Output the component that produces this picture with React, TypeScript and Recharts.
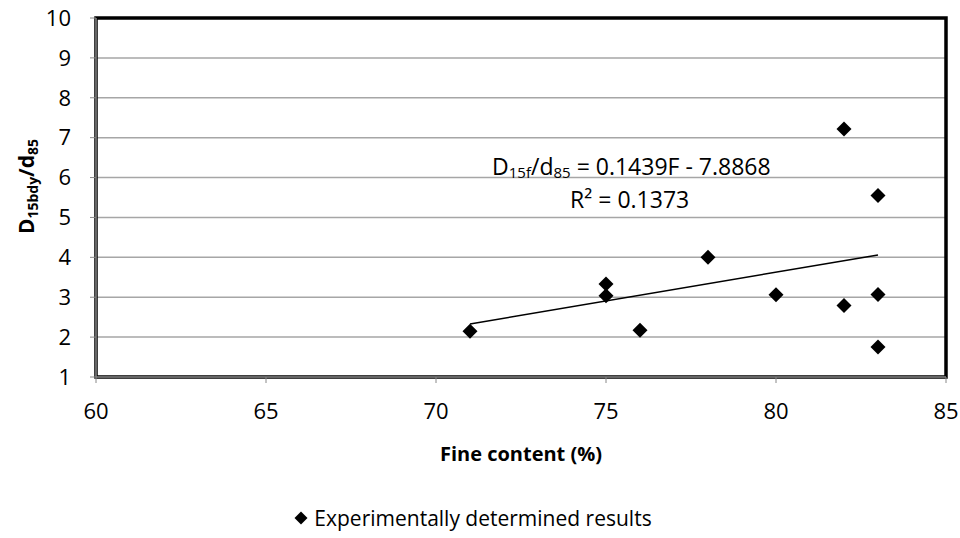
import React from 'react';
import {
  ScatterChart,
  Scatter,
  XAxis,
  YAxis,
  CartesianGrid,
  Legend,
  ReferenceArea,
  ReferenceDot,
} from 'recharts';

// valeurs
const fineContent = [71, 75, 75, 76, 78, 80, 82, 82, 83, 83, 83];
const ratio = [2.15, 3.33, 3.04, 2.17, 4.0, 3.06, 7.22, 2.79, 5.55, 3.07, 1.75];

// droite de tendance (extrémités)
const trendX = [71, 83];
const trendY = [2.33, 4.06];

const xTicks = [60, 65, 70, 75, 80, 85];
const yTicks = [1, 2, 3, 4, 5, 6, 7, 8, 9, 10];

const FONT = '"Open Sans", "Noto Sans", sans-serif';

const points = fineContent.map((x, i) => ({ x, y: ratio[i] }));
const trend = trendX.map((x, i) => ({ x, y: trendY[i] }));

const Diamond = (props: any) => {
  const { cx, cy } = props;
  const s = 7.5;
  return (
    <polygon
      points={`${cx},${cy - s} ${cx + s},${cy} ${cx},${cy + s} ${cx - s},${cy}`}
      fill="#000"
    />
  );
};

const YLabel = (props: any) => {
  const vb = props.viewBox;
  const cx = 26;
  const cy = vb.y + vb.height / 2 - 11;
  return (
    <text
      x={cx}
      y={cy}
      transform={`rotate(-90, ${cx}, ${cy})`}
      textAnchor="middle"
      dominantBaseline="central"
      fontFamily={FONT}
      fontWeight="bold"
      fontSize={21}
      fill="#000"
    >
      <tspan>D</tspan>
      <tspan fontSize={14} dy={6}>15bdy</tspan>
      <tspan dy={-6}>/d</tspan>
      <tspan fontSize={14} dy={6}>85</tspan>
    </text>
  );
};

const XLabel = (props: any) => {
  const vb = props.viewBox;
  return (
    <text
      x={vb.x + vb.width / 2}
      y={vb.y + 76}
      textAnchor="middle"
      dominantBaseline="central"
      fontFamily={FONT}
      fontWeight="bold"
      fontSize={20}
      fill="#000"
    >
      Fine content (%)
    </text>
  );
};

const Equation = (props: any) => {
  const vb = props.viewBox;
  const x = vb.x;
  const y = vb.y;
  return (
    <g fontFamily={FONT} fontSize={23} fill="#000">
      <text x={x} y={y} dominantBaseline="central">
        <tspan>D</tspan>
        <tspan fontSize={15} dy={6}>15f</tspan>
        <tspan dy={-6}>/d</tspan>
        <tspan fontSize={15} dy={6}>85</tspan>
        <tspan dy={-6}> = 0.1439F - 7.8868</tspan>
      </text>
      <text x={x + 78} y={y + 33} dominantBaseline="central">
        R² = 0.1373
      </text>
    </g>
  );
};

const LegendBox = () => (
  <div
    style={{
      height: 41,
      display: 'flex',
      alignItems: 'center',
      justifyContent: 'center',
      fontFamily: FONT,
      fontSize: 21,
      color: '#000',
    }}
  >
    <svg width={14} height={14} style={{ marginRight: 6 }}>
      <polygon points="7,0.5 13.5,7 7,13.5 0.5,7" fill="#000" />
    </svg>
    <span>Experimentally determined results</span>
  </div>
);

export default function App() {
  return (
    <div style={{ position: 'absolute', left: 0, top: 0, fontFamily: FONT }}>
      <ScatterChart
        width={960}
        height={538}
        margin={{ top: 18, right: 14, bottom: 0, left: 0 }}
      >
        <CartesianGrid vertical={false} stroke="#a6a6a6" strokeWidth={1.5} />
        <XAxis
          type="number"
          dataKey="x"
          domain={[60, 85]}
          ticks={xTicks}
          height={120}
          fontSize={22}
          tick={{ fill: '#000', fontSize: 22, fontFamily: FONT }}
          tickSize={6}
          tickMargin={20}
          axisLine={{ stroke: '#888', strokeWidth: 1.5 }}
          tickLine={{ stroke: '#888' }}
          label={{ content: XLabel }}
        />
        <YAxis
          type="number"
          dataKey="y"
          domain={[1, 10]}
          ticks={yTicks}
          width={96}
          fontSize={22}
          tick={{ fill: '#000', fontSize: 22, fontFamily: FONT }}
          tickSize={6}
          tickMargin={19}
          axisLine={{ stroke: '#888', strokeWidth: 1.5 }}
          tickLine={{ stroke: '#888' }}
          label={{ content: YLabel }}
        />
        <ReferenceArea
          x1={60}
          x2={85}
          y1={1}
          y2={10}
          fill="none"
          stroke="#000"
          strokeWidth={3.5}
        />
        <ReferenceDot
          x={71.65}
          y={6.3}
          r={0}
          fill="none"
          stroke="none"
          label={{ content: Equation }}
        />
        <Scatter
          name="trend"
          data={trend}
          line={{ stroke: '#000', strokeWidth: 1.5 }}
          shape={() => <g />}
          legendType="none"
          isAnimationActive={false}
        />
        <Scatter
          name="Experimentally determined results"
          data={points}
          fill="#000"
          shape={Diamond}
          legendType="diamond"
          isAnimationActive={false}
        />
        <Legend verticalAlign="bottom" height={41} content={LegendBox} />
      </ScatterChart>
    </div>
  );
}
